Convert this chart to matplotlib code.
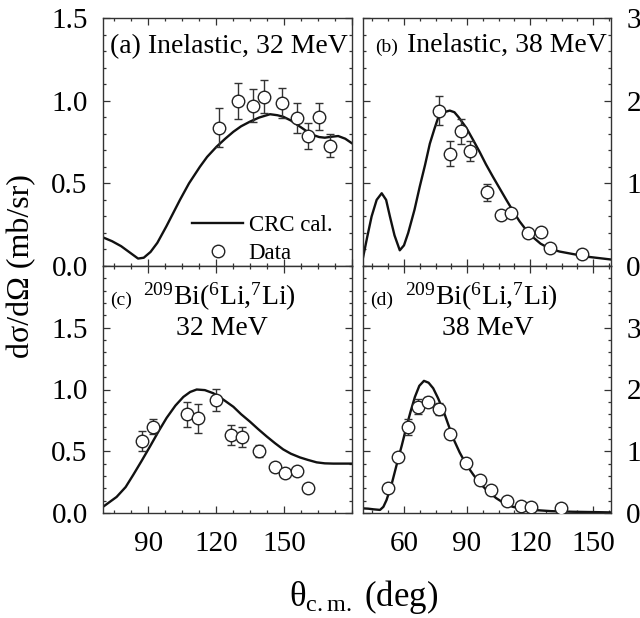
import matplotlib
matplotlib.use("Agg")
import matplotlib.pyplot as plt
from matplotlib.ticker import MultipleLocator, FormatStrFormatter

plt.rcParams["font.family"] = ["Liberation Serif", "DejaVu Serif"]
plt.rcParams["mathtext.fontset"] = "custom"
plt.rcParams["mathtext.rm"] = "Liberation Serif"
plt.rcParams["mathtext.it"] = "Liberation Serif:italic"

# (a) inelastic, 32 MeV
calc_a_x = [70, 74, 78, 82, 85.5, 88, 91, 94, 98, 101, 104, 108, 112.8, 116, 120.2, 124,
            127.6, 131, 134.9, 139, 143.8, 147, 149.6, 153, 157, 160, 162.9, 165.5, 168,
            171, 173.9, 177, 180]
calc_a_y = [0.173, 0.15, 0.12, 0.08, 0.045, 0.05, 0.085, 0.14, 0.24, 0.32, 0.40, 0.50, 0.60,
            0.66, 0.722, 0.77, 0.812, 0.845, 0.873, 0.898, 0.918, 0.912, 0.903, 0.88, 0.843,
            0.815, 0.792, 0.78, 0.776, 0.782, 0.786, 0.77, 0.742]
data_a_x = [121.2, 129.5, 136.4, 141.3, 148.9, 155.5, 160.4, 165.5, 170.3]
data_a_y = [0.837, 0.998, 0.968, 1.024, 0.984, 0.893, 0.787, 0.903, 0.728]
data_a_err = [0.12, 0.11, 0.10, 0.10, 0.09, 0.09, 0.08, 0.08, 0.07]

# (b) inelastic, 38 MeV
calc_b_x = [40.5, 42.5, 44.6, 47, 49.4, 51.5, 53.3, 55.5, 58, 60, 62, 65, 67.5, 70, 72.3,
            74.5, 76.2, 79, 81.8, 84, 86, 89.7, 93, 96, 99, 102.3, 105.5, 108.7, 112, 115,
            118, 121.3, 125, 129.3, 134, 140.3, 148, 158]
calc_b_y = [0.10, 0.35, 0.60, 0.80, 0.88, 0.80, 0.60, 0.37, 0.19, 0.25, 0.40, 0.68, 0.96,
            1.22, 1.48, 1.66, 1.79, 1.86, 1.88, 1.86, 1.80, 1.67, 1.52, 1.38, 1.23, 1.08,
            0.94, 0.80, 0.66, 0.54, 0.44, 0.35, 0.27, 0.21, 0.175, 0.145, 0.11, 0.08]
data_b_x = [76.7, 81.8, 86.9, 91.6, 99.5, 106, 111.1, 119, 125.3, 129.3, 144.8]
data_b_y = [1.88, 1.36, 1.63, 1.39, 0.89, 0.62, 0.64, 0.40, 0.41, 0.22, 0.14]
data_b_err = [0.18, 0.15, 0.15, 0.12, 0.10, 0.04, 0.04, 0.05, 0.04, 0.03, 0.03]

# (c) 209Bi(6Li,7Li), 32 MeV
calc_c_x = [70, 73, 76, 80, 83.4, 87, 90.8, 94.5, 98.1, 102, 105.5, 108.5, 111.4, 115,
            118.7, 123, 127.6, 131, 134.9, 138.5, 142.3, 146, 149.6, 153, 157, 160.5, 164.4,
            168, 171.7, 176, 180]
calc_c_y = [0.05, 0.09, 0.13, 0.21, 0.31, 0.42, 0.54, 0.66, 0.77, 0.87, 0.94, 0.98, 1.0,
            0.995, 0.97, 0.92, 0.86, 0.80, 0.74, 0.68, 0.62, 0.565, 0.515, 0.48, 0.45, 0.43,
            0.41, 0.402, 0.40, 0.40, 0.40]
data_c_x = [87.1, 92, 107, 111.8, 119.9, 126.5, 131.5, 139, 146, 150.4, 155.6, 160.7]
data_c_y = [0.585, 0.70, 0.80, 0.766, 0.915, 0.63, 0.613, 0.50, 0.37, 0.32, 0.34, 0.20]
data_c_err = [0.08, 0.06, 0.10, 0.12, 0.09, 0.08, 0.08, 0.05, 0.03, 0.03, 0.03, 0.03]

# (d) 209Bi(6Li,7Li), 38 MeV
calc_d_x = [40.5, 43, 45.4, 48.6, 50.2, 51.7, 54, 56.5, 59, 61.2, 63.2, 65.2, 67.3, 69.5,
            71.7, 73.9, 76.2, 78.6, 81, 83.4, 86.5, 89.7, 93, 96.1, 100, 103.9, 108, 111.8,
            116, 121.3, 130, 140.3, 150, 158]
calc_d_y = [0.075, 0.07, 0.06, 0.05, 0.10, 0.21, 0.45, 0.78, 1.10, 1.40, 1.65, 1.88, 2.06,
            2.14, 2.11, 2.02, 1.86, 1.67, 1.44, 1.21, 0.98, 0.78, 0.62, 0.48, 0.35, 0.24,
            0.15, 0.10, 0.07, 0.05, 0.03, 0.02, 0.015, 0.01]
data_d_x = [52.2, 57, 62, 66.7, 71.5, 76.7, 81.8, 89.4, 96.4, 101.3, 109.2, 115.5, 120.3, 134.8]
data_d_y = [0.40, 0.90, 1.40, 1.72, 1.80, 1.68, 1.28, 0.815, 0.535, 0.38, 0.19, 0.11, 0.09, 0.075]
data_d_err = [0.03, 0.04, 0.13, 0.12, 0.08, 0.10, 0.05, 0.04, 0.03, 0.03, 0.02, 0.02, 0.02, 0.02]

W, H = 640, 618
fig = plt.figure(figsize=(W / 100, H / 100), dpi=100)


def px_axes(x0, y0, x1, y1):
    return fig.add_axes([x0 / W, 1 - y1 / H, (x1 - x0) / W, (y1 - y0) / H])


ax_a = px_axes(103, 18, 352, 266)
ax_b = px_axes(363, 18, 611, 266)
ax_c = px_axes(103, 266, 352, 513)
ax_d = px_axes(363, 266, 611, 513)


def draw(ax, cx, cy, dx, dy, de):
    line, = ax.plot(cx, cy, color="#111111", lw=1.7, zorder=2)
    ax.errorbar(dx, dy, yerr=de, fmt="none", ecolor="#333333", elinewidth=1.0,
                capsize=3, capthick=1.0, zorder=3)
    pts, = ax.plot(dx, dy, "o", ms=9, mfc="white", mec="#222222", mew=1.0,
                   ls="none", zorder=4)
    return line, pts


def style(ax, xlim, ylim, ymaj, ymin, yticks, right=False, bottom=False):
    ax.set_xlim(*xlim)
    ax.set_ylim(*ylim)
    ax.xaxis.set_major_locator(MultipleLocator(30))
    ax.xaxis.set_minor_locator(MultipleLocator(7.5))
    ax.yaxis.set_major_locator(MultipleLocator(ymaj))
    ax.yaxis.set_minor_locator(MultipleLocator(ymin))
    ax.set_yticks(yticks)
    ax.yaxis.set_major_formatter(FormatStrFormatter("%d" if right else "%.1f"))
    ax.tick_params(which="both", direction="in", top=True, right=True, width=0.9,
                   color="#333333", labelsize=21)
    ax.tick_params(which="major", length=5)
    ax.tick_params(which="minor", length=2.5)
    ax.tick_params(axis="y", pad=11, labelleft=not right, labelright=right)
    ax.tick_params(axis="x", pad=13, labelbottom=bottom)
    for s in ax.spines.values():
        s.set_linewidth(1.0)
        s.set_color("#333333")


line_a, pts_a = draw(ax_a, calc_a_x, calc_a_y, data_a_x, data_a_y, data_a_err)
draw(ax_b, calc_b_x, calc_b_y, data_b_x, data_b_y, data_b_err)
draw(ax_c, calc_c_x, calc_c_y, data_c_x, data_c_y, data_c_err)
draw(ax_d, calc_d_x, calc_d_y, data_d_x, data_d_y, data_d_err)

style(ax_a, (70, 180), (0, 1.5), 0.5, 0.1, [0, 0.5, 1.0, 1.5])
style(ax_b, (40.5, 158.5), (0, 3), 1, 0.2, [0, 1, 2, 3], right=True)
style(ax_c, (70, 180), (0, 2), 0.5, 0.1, [0, 0.5, 1.0, 1.5], bottom=True)
style(ax_d, (40.5, 158.5), (0, 4), 1, 0.2, [0, 1, 2, 3], right=True, bottom=True)
ax_c.set_xticks([90, 120, 150])
ax_d.set_xticks([60, 90, 120, 150])

ax_a.legend([line_a, pts_a], ["CRC cal.", "Data"], loc="lower left",
            bbox_to_anchor=(0.35, 0.0), frameon=False, fontsize=16.5,
            handlelength=2.2, handletextpad=0.25, labelspacing=0.3,
            borderpad=0.1, borderaxespad=0)

ax_a.text(0.028, 0.859, "(a) Inelastic, 32 MeV", transform=ax_a.transAxes,
          fontsize=20, va="baseline", ha="left")
ax_b.text(0.048, 0.863, "(b)", transform=ax_b.transAxes, fontsize=14,
          va="baseline", ha="left")
ax_b.text(0.177, 0.863, "Inelastic, 38 MeV", transform=ax_b.transAxes,
          fontsize=20, va="baseline", ha="left")

reaction = r"$^{209}$Bi($^{6}$Li,$^{7}$Li)"
ax_c.text(0.028, 0.842, "(c)", transform=ax_c.transAxes, fontsize=14,
          va="baseline", ha="left")
ax_c.text(0.466, 0.842, reaction, transform=ax_c.transAxes, fontsize=20,
          va="baseline", ha="center")
ax_c.text(0.478, 0.72, "32 MeV", transform=ax_c.transAxes, fontsize=20,
          va="baseline", ha="center")
ax_d.text(0.028, 0.842, "(d)", transform=ax_d.transAxes, fontsize=14,
          va="baseline", ha="left")
ax_d.text(0.476, 0.842, reaction, transform=ax_d.transAxes, fontsize=20,
          va="baseline", ha="center")
ax_d.text(0.504, 0.72, "38 MeV", transform=ax_d.transAxes, fontsize=20,
          va="baseline", ha="center")

fig.text(22 / W, 1 - 266 / H, "dσ/dΩ (mb/sr)", rotation=90, ha="center",
         va="center", fontsize=23)
fig.text(364 / W, 1 - 597 / H, r"θ$_{\rm c.m.}$ (deg)", ha="center",
         va="center", fontsize=25)

fig.savefig("out.png", dpi=100)
